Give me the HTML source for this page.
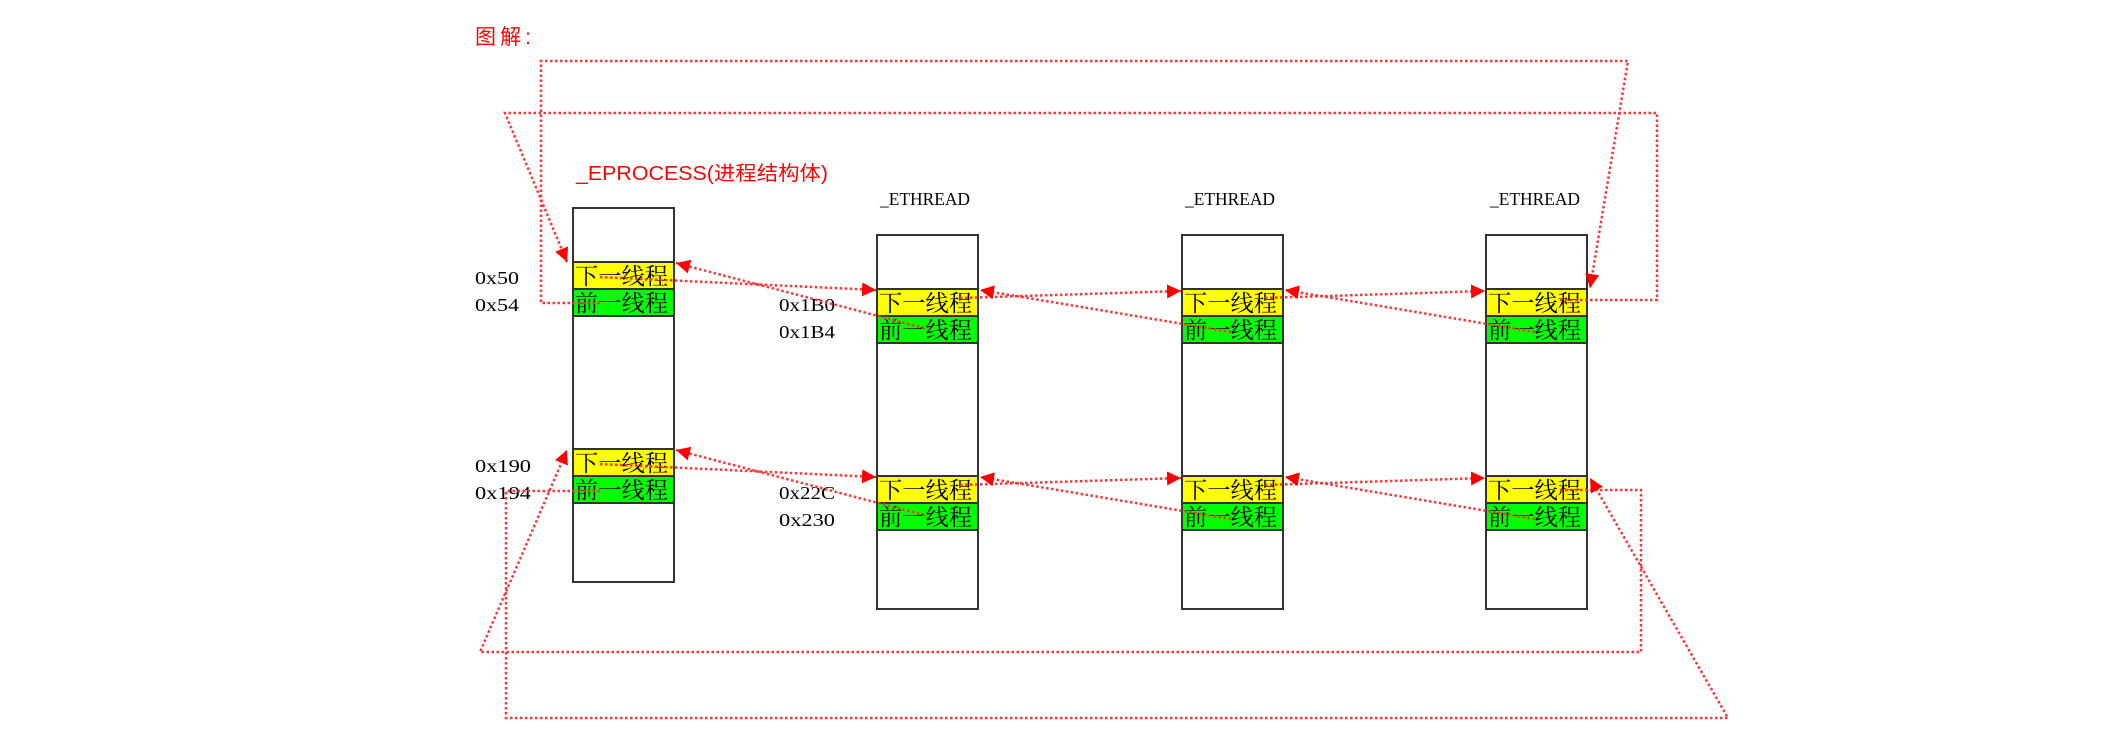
<!DOCTYPE html>
<html><head><meta charset="utf-8"><style>
html,body{margin:0;padding:0;background:#fff;width:2114px;height:754px;overflow:hidden}
svg{display:block}
text{font-family:"Liberation Serif","Noto Serif CJK SC","Noto Sans CJK SC",serif}
.cj{font-family:"Liberation Sans","Noto Sans CJK SC",sans-serif}
</style></head><body>
<svg width="2114" height="754" viewBox="0 0 2114 754" xmlns="http://www.w3.org/2000/svg">
<defs>
<marker id="a" viewBox="0 0 10 10" refX="10" refY="5" markerWidth="14" markerHeight="14" markerUnits="userSpaceOnUse" orient="auto"><path d="M0,0L10,5L0,10z" fill="#f00"/></marker>
</defs>
<text x="475" y="44" fill="#f00" font-size="21" class="cj" textLength="56">图解:</text>
<text x="576" y="180" fill="#f00" font-size="20" class="cj" textLength="252" lengthAdjust="spacingAndGlyphs">_EPROCESS(进程结构体)</text>
<g font-size="18" fill="#000">
<text x="880" y="205" textLength="90" lengthAdjust="spacingAndGlyphs">_ETHREAD</text>
<text x="1185" y="205" textLength="90" lengthAdjust="spacingAndGlyphs">_ETHREAD</text>
<text x="1490" y="205" textLength="90" lengthAdjust="spacingAndGlyphs">_ETHREAD</text>
<text x="475" y="284" textLength="44" lengthAdjust="spacingAndGlyphs">0x50</text>
<text x="475" y="311" textLength="44" lengthAdjust="spacingAndGlyphs">0x54</text>
<text x="475" y="472" textLength="56" lengthAdjust="spacingAndGlyphs">0x190</text>
<text x="475" y="499" textLength="56" lengthAdjust="spacingAndGlyphs">0x194</text>
<text x="779" y="311" textLength="56" lengthAdjust="spacingAndGlyphs">0x1B0</text>
<text x="779" y="338" textLength="56" lengthAdjust="spacingAndGlyphs">0x1B4</text>
<text x="779" y="499" textLength="56" lengthAdjust="spacingAndGlyphs">0x22C</text>
<text x="779" y="526" textLength="56" lengthAdjust="spacingAndGlyphs">0x230</text>
</g>
<g stroke="#333" stroke-width="2">
<rect x="573" y="208" width="101" height="374" fill="#fff"/>
<rect x="877" y="235" width="101" height="374" fill="#fff"/>
<rect x="1182" y="235" width="101" height="374" fill="#fff"/>
<rect x="1486" y="235" width="101" height="374" fill="#fff"/>
</g>
<g stroke="#333" stroke-width="2">
<rect x="573" y="262" width="101" height="27" fill="#ff0"/><rect x="573" y="289" width="101" height="27" fill="#0f0"/>
<rect x="573" y="449" width="101" height="27" fill="#ff0"/><rect x="573" y="476" width="101" height="27" fill="#0f0"/>
<rect x="877" y="289" width="101" height="27" fill="#ff0"/><rect x="877" y="316" width="101" height="27" fill="#0f0"/>
<rect x="877" y="476" width="101" height="27" fill="#ff0"/><rect x="877" y="503" width="101" height="27" fill="#0f0"/>
<rect x="1182" y="289" width="101" height="27" fill="#ff0"/><rect x="1182" y="316" width="101" height="27" fill="#0f0"/>
<rect x="1182" y="476" width="101" height="27" fill="#ff0"/><rect x="1182" y="503" width="101" height="27" fill="#0f0"/>
<rect x="1486" y="289" width="101" height="27" fill="#ff0"/><rect x="1486" y="316" width="101" height="27" fill="#0f0"/>
<rect x="1486" y="476" width="101" height="27" fill="#ff0"/><rect x="1486" y="503" width="101" height="27" fill="#0f0"/>
</g>
<g font-size="23" class="cj" fill="#000">
<text x="575" y="284" textLength="93" lengthAdjust="spacingAndGlyphs">下一线程</text><text x="575" y="311" textLength="93" lengthAdjust="spacingAndGlyphs">前一线程</text>
<text x="575" y="471" textLength="93" lengthAdjust="spacingAndGlyphs">下一线程</text><text x="575" y="498" textLength="93" lengthAdjust="spacingAndGlyphs">前一线程</text>
<text x="879" y="311" textLength="93" lengthAdjust="spacingAndGlyphs">下一线程</text><text x="879" y="338" textLength="93" lengthAdjust="spacingAndGlyphs">前一线程</text>
<text x="879" y="498" textLength="93" lengthAdjust="spacingAndGlyphs">下一线程</text><text x="879" y="525" textLength="93" lengthAdjust="spacingAndGlyphs">前一线程</text>
<text x="1184" y="311" textLength="93" lengthAdjust="spacingAndGlyphs">下一线程</text><text x="1184" y="338" textLength="93" lengthAdjust="spacingAndGlyphs">前一线程</text>
<text x="1184" y="498" textLength="93" lengthAdjust="spacingAndGlyphs">下一线程</text><text x="1184" y="525" textLength="93" lengthAdjust="spacingAndGlyphs">前一线程</text>
<text x="1488" y="311" textLength="93" lengthAdjust="spacingAndGlyphs">下一线程</text><text x="1488" y="338" textLength="93" lengthAdjust="spacingAndGlyphs">前一线程</text>
<text x="1488" y="498" textLength="93" lengthAdjust="spacingAndGlyphs">下一线程</text><text x="1488" y="525" textLength="93" lengthAdjust="spacingAndGlyphs">前一线程</text>
</g>
<g stroke="#f33" stroke-width="2.5" stroke-dasharray="2.5 2.5" fill="none">
<path d="M600,303 H541 V61 H1628 L1590,288" marker-end="url(#a)"/>
<path d="M1560,300 H1657 V113 H505 L567,262" marker-end="url(#a)"/>
<path d="M1560,490 H1641 V652 H480 L567,450" marker-end="url(#a)"/>
<path d="M600,491 H506 V718 H1728 L1590,478" marker-end="url(#a)"/>
<path d="M600,277 L876,290" marker-end="url(#a)"/>
<path d="M924,328 L676,263" marker-end="url(#a)"/>
<path d="M960,298 L1181,291" marker-end="url(#a)"/>
<path d="M1231,332 L980,290" marker-end="url(#a)"/>
<path d="M1265,298 L1485,291" marker-end="url(#a)"/>
<path d="M1535,332 L1285,290" marker-end="url(#a)"/>
<path d="M600,464 L876,477" marker-end="url(#a)"/>
<path d="M924,515 L676,450" marker-end="url(#a)"/>
<path d="M960,485 L1181,478" marker-end="url(#a)"/>
<path d="M1231,519 L980,477" marker-end="url(#a)"/>
<path d="M1265,485 L1485,478" marker-end="url(#a)"/>
<path d="M1535,519 L1285,477" marker-end="url(#a)"/>
</g>
</svg>
</body></html>
